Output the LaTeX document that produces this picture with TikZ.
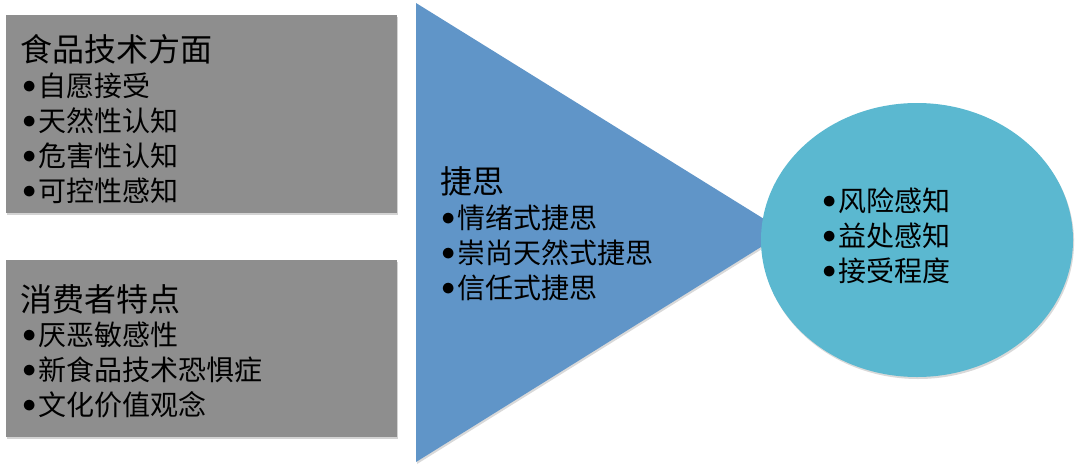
\documentclass[tikz,border=0pt]{standalone}
\usepackage{fontspec}
\newfontfamily\cjk{Noto Sans CJK SC}
\usetikzlibrary{shadows}
\definecolor{boxgray}{HTML}{8E8E8E}
\definecolor{triblue}{HTML}{6095C8}
\definecolor{circteal}{HTML}{5BB8D0}
\newcommand{\bul}{\makebox[12pt][l]{\raisebox{0.1em}{$\bullet$}}}
\tikzset{
  panel/.style={fill=boxgray, draw=none, drop shadow={shadow xshift=0.8pt, shadow yshift=-1.5pt, opacity=0.35}},
  ttl/.style={inner sep=0pt, anchor=west, font=\cjk\fontsize{24}{28}\selectfont},
  items/.style={inner sep=0pt, anchor=west, align=left, font=\cjk\fontsize{21}{26.25}\selectfont},
}
\begin{document}
\begin{tikzpicture}[x=0.75pt,y=-0.75pt]
\useasboundingbox (0,0) rectangle (1080,471);
% gray panels
\path[panel] (6,15) rectangle (397,213);
\path[panel] (6,260) rectangle (397,437);
% triangle
\coordinate (ta) at (416,3);
\coordinate (tb) at (416,462);
\coordinate (tc) at (785,232);
\fill[triblue, drop shadow={shadow xshift=0.8pt, shadow yshift=-1.5pt, opacity=0.3}] (ta) -- (tc) -- (tb) -- cycle;
% circle
\fill[circteal, drop shadow={shadow xshift=0.8pt, shadow yshift=-1.5pt, opacity=0.3}] (917,240) ellipse [x radius=156, y radius=137];
% texts
\node[ttl] (t1) at (20,49) {食品技术方面};
\node[items] (i1) at (22,138) {\bul 自愿接受\\\bul 天然性认知\\\bul 危害性认知\\\bul 可控性感知};
\node[ttl] (t2) at (20,299.5) {消费者特点};
\node[items] (i2) at (22,370) {\bul 厌恶敏感性\\\bul 新食品技术恐惧症\\\bul 文化价值观念};
\node[ttl] (t3) at (440,181) {捷思};
\node[items] (i3) at (441,252.5) {\bul 情绪式捷思\\\bul 崇尚天然式捷思\\\bul 信任式捷思};
\node[items] (i4) at (822,236) {\bul 风险感知\\\bul 益处感知\\\bul 接受程度};
\end{tikzpicture}
\end{document}
